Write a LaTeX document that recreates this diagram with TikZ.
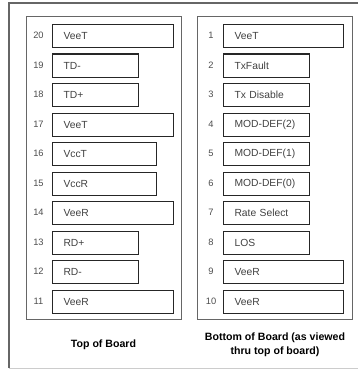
\documentclass[tikz,border=0pt]{standalone}
\usepackage{fontspec}
\setmainfont{Liberation Sans}
\begin{document}
\begin{tikzpicture}[x=1pt,y=-1pt,
  pinbox/.style={draw=black!85,line width=1.1pt,anchor=north west,minimum height=23pt,inner sep=0pt,font=\fontsize{10.3}{12}\selectfont,text=black!75,align=left},
  pinnum/.style={font=\fontsize{9.3}{10}\selectfont,text=black!70,inner sep=0pt},
  panel/.style={draw=black!60,line width=0.8pt},
  caption/.style={font=\bfseries\fontsize{10.6}{14}\selectfont,align=center,inner sep=0pt}]
\useasboundingbox (0,0) rectangle (357,369);
\draw[draw=black!60,line width=1.3pt] (9,368) -- (9,3) -- (362,3);
\draw[draw=black!20,line width=0.6pt] (9,368) -- (362,368);
\node[panel,minimum width=155pt,minimum height=303pt,anchor=north west,inner sep=0pt] (lp) at (26,16) {};
\node[panel,minimum width=155pt,minimum height=303pt,anchor=north west,inner sep=0pt] (rp) at (197,16) {};
% left pins
\foreach \n/\t/\w [count=\i from 0] in {20/VeeT/121,19/TD-/86,18/TD+/86,17/VeeT/121,16/VccT/104,15/VccR/104,14/VeeR/121,13/RD+/86,12/RD-/86,11/VeeR/121}{
  \node[pinbox,minimum width=\w pt,text width=\w pt-8pt] (L\n) at (52,24+29.5*\i) {\hspace*{7pt}\t};
  \node[pinnum] (LN\n) at (38.5,35.5+29.5*\i) {\n};
}
% right pins
\foreach \n/\t/\w [count=\i from 0] in {1/VeeT/120,2/TxFault/86,3/Tx Disable/86,4/MOD-DEF(2)/86,5/MOD-DEF(1)/86,6/MOD-DEF(0)/86,7/Rate Select/86,8/LOS/86,9/VeeR/120,10/VeeR/120}{
  \node[pinbox,minimum width=\w pt,text width=\w pt-8pt] (R\n) at (223,24+29.5*\i) {\hspace*{7pt}\t};
  \node[pinnum] (RN\n) at (211,35.5+29.5*\i) {\n};
}
\node[caption] (lc) at (103.5,345) {Top of Board};
\node[caption] (rc) at (275,345) {Bottom of Board (as viewed\\thru top of board)};
\end{tikzpicture}
\end{document}
